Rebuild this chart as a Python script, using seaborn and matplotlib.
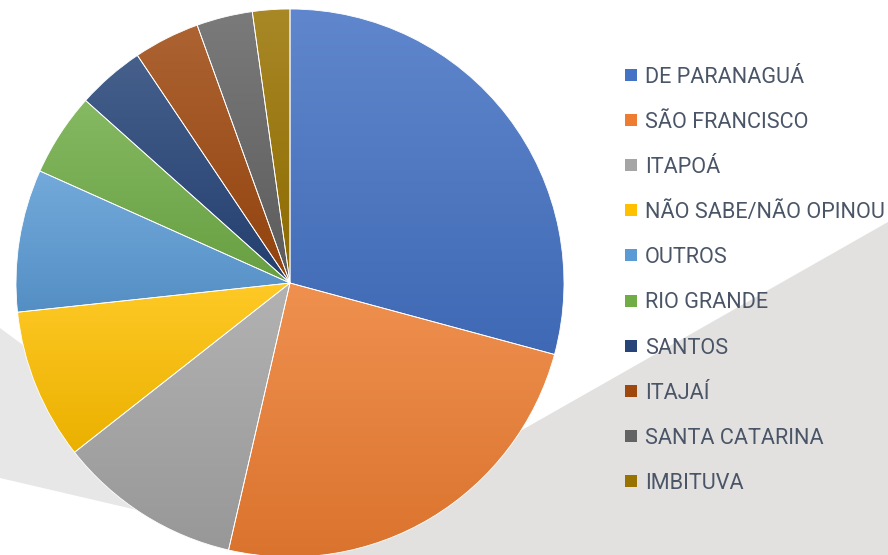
import numpy as np
import matplotlib
matplotlib.use("Agg")
import matplotlib.pyplot as plt
import matplotlib.colors as mcolors
from matplotlib.patches import Rectangle
import seaborn as sns

# data (share of answers, %)
categories = ["DE PARANAGUÁ", "SÃO FRANCISCO", "ITAPOÁ", "NÃO SABE/NÃO OPINOU",
              "OUTROS", "RIO GRANDE", "SANTOS", "ITAJAÍ", "SANTA CATARINA", "IMBITUVA"]
shares = [29.2, 24.4, 10.8, 8.9, 8.4, 4.9, 4.0, 3.9, 3.3, 2.2]
colors = ["#4472C4", "#ED7D31", "#A5A5A5", "#FFC000", "#5B9BD5",
          "#70AD47", "#264478", "#9E480E", "#636363", "#997300"]

sns.set_theme(style="white")
plt.rcParams['font.family'] = ['Roboto', 'DejaVu Sans']


def shade(c, f):
    # f > 0 -> towards white, f < 0 -> towards black
    rgb = np.array(mcolors.to_rgb(c))
    if f > 0:
        return rgb + (1 - rgb) * f
    return rgb * (1 + f)


W, H = 888, 555
fig = plt.figure(figsize=(W / 100, H / 100), dpi=100)
ax = fig.add_axes([0, 0, 1, 1])

# grey background shapes (pixel coords, y measured from the bottom)
ax.fill([0, 70, 150, 0], [H - 328, H - 380, H - 513, H - 478],
        color="#e7e7e7", lw=0, zorder=0)
ax.fill([888, 522, 300, 888], [H - 222, H - 430, H - 555, H - 555],
        color="#e2e1e0", lw=0, zorder=0)

wedges, _ = ax.pie(shares, colors=colors, startangle=90, counterclock=False,
                   center=(290, H - 283), radius=274, frame=True,
                   wedgeprops=dict(edgecolor="white", linewidth=0.6))

# Office style top-to-bottom gradient inside each slice
for w, c in zip(wedges, colors):
    bb = w.get_path().get_extents()
    grad = np.linspace(0, 1, 256)[:, None, None]
    img = shade(c, 0.15)[None, None, :] * (1 - grad) + shade(c, -0.08)[None, None, :] * grad
    im = ax.imshow(img, extent=(bb.x0, bb.x1, bb.y0, bb.y1), origin="upper",
                   aspect="auto", interpolation="bilinear", zorder=1)
    im.set_clip_path(w)
    w.set_facecolor("none")
    w.set_zorder(2)

ax.set_xlim(0, W)
ax.set_ylim(0, H)
ax.set_aspect("auto")
ax.axis("off")

# legend, one evenly spaced row per category
texts = []
for i, (lab, c) in enumerate(zip(categories, colors)):
    yc = H - (75 + 45.1 * i)
    ax.add_patch(Rectangle((625, yc - 6), 12, 12, facecolor=c, edgecolor="none", zorder=3))
    texts.append(ax.text(645, yc, lab, fontsize=15, color="#4a5567",
                         va="center_baseline", ha="left", zorder=3))

# the longest label should end right at the figure edge (~241 px wide)
r = fig.canvas.get_renderer()
widest = max(t.get_window_extent(r).width for t in texts)
fs = 15 * 240 / widest
for t in texts:
    t.set_fontsize(fs)

fig.savefig("out.png", dpi=100)
